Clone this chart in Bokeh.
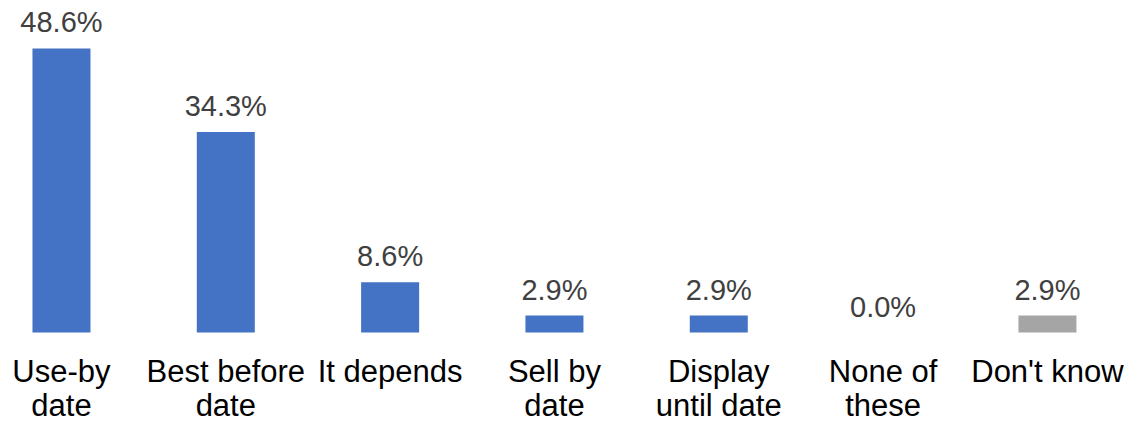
from bokeh.plotting import figure
from bokeh.models import ColumnDataSource, Range1d
from bokeh.core.properties import value
from bokeh.embed import file_html
from bokeh.resources import INLINE

categories_line1 = ["Use-by", "Best before", "It depends", "Sell by", "Display", "None of", "Don't know"]
categories_line2 = ["date", "date", "", "date", "until date", "these", ""]
values = [48.6, 34.3, 8.6, 2.9, 2.9, 0.0, 2.9]
colors = ["#4472C4"] * 6 + ["#A5A5A5"]
labels = [f"{v:.1f}%" for v in values]

xs = list(range(len(values)))
src = ColumnDataSource(dict(x=xs, top=values, color=colors, label=labels,
                            l1=categories_line1, l2=categories_line2,
                            zero=[0] * len(values)))

p = figure(width=1136, height=423, output_backend="svg", toolbar_location=None,
           x_range=Range1d(-0.371, 6.542), y_range=Range1d(-15.57, 56.81),
           min_border=0)
p.axis.visible = False
p.grid.visible = False
p.outline_line_color = None
p.background_fill_color = "white"
p.border_fill_color = "white"

p.vbar(x="x", top="top", bottom=0, width=0.353, fill_color="color",
       line_color=None, source=src)

p.text(x="x", y="top", text="label", source=src, text_align="center",
       text_baseline="alphabetic", y_offset=-26, text_font=value("Liberation Sans"),
       text_font_size="29px", text_color="#404040")

p.text(x="x", y="zero", text="l1", source=src, text_align="center",
       text_baseline="alphabetic", y_offset=39, text_font=value("Liberation Sans"),
       text_font_size="31px", text_color="#000000")
p.text(x="x", y="zero", text="l2", source=src, text_align="center",
       text_baseline="alphabetic", y_offset=73, text_font=value("Liberation Sans"),
       text_font_size="31px", text_color="#000000")

open("out.html", "w").write(file_html(p, INLINE))
